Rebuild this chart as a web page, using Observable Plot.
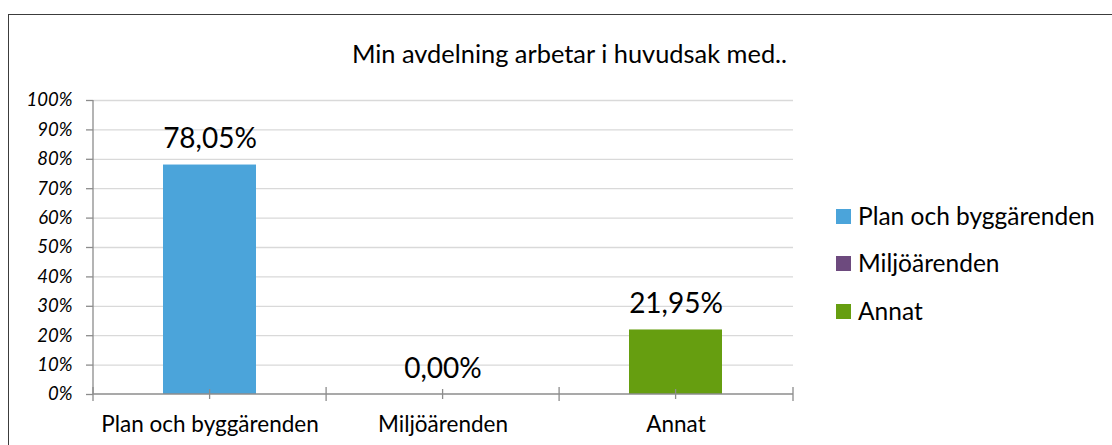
<!DOCTYPE html>
<html>
<head>
<meta charset="utf-8">
<script src="https://cdn.jsdelivr.net/npm/d3@7"></script>
<script src="https://cdn.jsdelivr.net/npm/@observablehq/plot@0.6"></script>
<style>
  html, body { margin: 0; padding: 0; background: #fff; }
  body { width: 1112px; height: 445px; overflow: hidden; font-family: Lato, "Open Sans", sans-serif; }
  #wrap { position: relative; width: 1112px; height: 445px; }
  #border { position: absolute; left: 8px; top: 14px; width: 1130px; height: 460px; border: 1.5px solid #3c3c3c; box-sizing: border-box; }
  #title { position: absolute; left: 0; width: 1139px; top: 38px; text-align: center; font-size: 25.4px; line-height: normal; color: #000; white-space: nowrap; }
  #legend { position: absolute; left: 836px; top: 200.5px; }
  .item { height: 47.5px; line-height: 30px; display: flex; align-items: flex-start; font-size: 24.5px; color: #000; white-space: nowrap; }
  .sw { width: 15px; height: 15px; margin-right: 7px; margin-top: 8px; flex: none; }
  svg { position: absolute; left: 0; top: 0; }
</style>
</head>
<body>
<div id="wrap">
  <div id="border"></div>
  <div id="title"></div>
  <div id="legend"></div>
</div>
<script>
const title = "Min avdelning arbetar i huvudsak med..";
const categories = ["Plan och byggärenden", "Miljöärenden", "Annat"];
const values = [78.05, 0.00, 21.95];
const colors = ["#4ba4da", "#6d4a7e", "#669e10"];
const yTicks = [0, 10, 20, 30, 40, 50, 60, 70, 80, 90, 100];

const data = categories.map((c, i) => ({cat: c, value: values[i]}));
const fmt = v => v.toFixed(2).replace(".", ",") + "%";

document.getElementById("title").textContent = title;

const legend = d3.select("#legend");
categories.forEach((c, i) => {
  const row = legend.append("div").attr("class", "item");
  row.append("div").attr("class", "sw").style("background", colors[i]);
  row.append("span").text(c);
});

const paddingInner = 0.6, paddingOuter = 0.3;

function axesMark(index, scales, values, dims) {
  const {x, y} = scales;
  const g = d3.create("svg:g").attr("stroke", "#8c8c8c").attr("stroke-width", 1.3);
  const x0 = dims.marginLeft, x1 = dims.width - dims.marginRight;
  const y0 = y(0), yTop = y(100);
  const step = x(categories[1]) - x(categories[0]);
  const bw = step * (1 - paddingInner);
  g.append("line").attr("x1", x0).attr("x2", x0).attr("y1", yTop).attr("y2", y0);
  g.append("line").attr("x1", x0).attr("x2", x1).attr("y1", y0).attr("y2", y0);
  const bounds = categories.map(c => x(c) - step * paddingInner / 2).concat([x1]);
  bounds[0] = x0;
  for (const b of bounds) g.append("line").attr("x1", b).attr("x2", b).attr("y1", y0 - 7).attr("y2", y0 + 7);
  for (const c of categories) {
    const cx = x(c) + bw / 2;
    g.append("line").attr("x1", cx).attr("x2", cx).attr("y1", y0 - 5).attr("y2", y0 + 5);
  }
  return g.node();
}

const chart = Plot.plot({
  width: 1112,
  height: 445,
  marginLeft: 93,
  marginRight: 319,
  marginTop: 100,
  marginBottom: 51,
  style: {fontFamily: "Lato, 'Open Sans', sans-serif", background: "transparent"},
  x: {domain: categories, paddingInner, paddingOuter, axis: null},
  y: {domain: [0, 100], axis: null},
  marks: [
    Plot.gridY(yTicks.filter(t => t > 0), {stroke: "#d9d9d9", strokeOpacity: 1, strokeWidth: 1.3}),
    Plot.axisY(yTicks, {
      tickSize: 7, tickPadding: 14, stroke: "#8c8c8c", strokeWidth: 1.3, fill: "#000",
      tickFormat: d => d + "%", fontSize: 18.5, fontStyle: "italic", label: null
    }),
    Plot.barY(data, {x: "cat", y: "value", fill: (d, i) => colors[i]}),
    axesMark,
    Plot.text(data, {
      x: "cat", y: "value", text: d => fmt(d.value),
      fontSize: 28, fill: "#000", lineAnchor: "bottom", dy: -17
    }),
    Plot.axisX(categories, {tickSize: 0, tickPadding: 22, fontSize: 22.5, fill: "#000", label: null})
  ]
});
document.getElementById("wrap").appendChild(chart);
</script>
</body>
</html>
